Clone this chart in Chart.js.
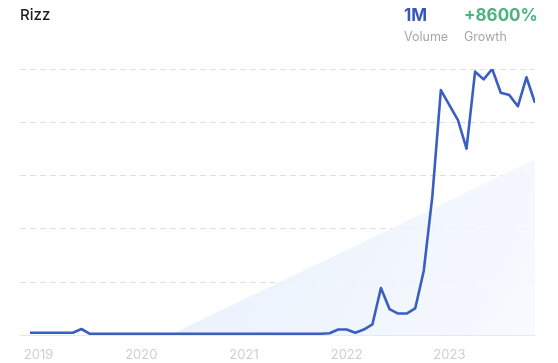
<!DOCTYPE html>
<html>
<head>
<meta charset="utf-8">
<script src="https://cdn.jsdelivr.net/npm/chart.js@4"></script>
<style>
    body { margin: 0; background: #fff; font-family: Inter, "Noto Sans", sans-serif; }
    .wrap { position: relative; width: 558px; height: 363px; overflow: hidden; }
    canvas { position: absolute; left: 0; top: 0; }
    .title { position: absolute; left: 20px; top: 5px; font-size: 15px; font-weight: 500; color: #1d1f24; }
    .stat { position: absolute; top: 4px; }
    .stat .num { font-size: 17px; font-weight: 700; line-height: 22px; }
    .stat .lbl { font-size: 12.5px; color: #a3a7ae; line-height: 18px; margin-top: 2px; }
</style>
</head>
<body>
<div class="wrap">
    <canvas id="trendChart" width="558" height="376"></canvas>
    <div class="title">Rizz</div>
    <div class="stat" style="left:404px"><div class="num" style="color:#3557b7">1M</div><div class="lbl">Volume</div></div>
    <div class="stat" style="left:464px"><div class="num" style="color:#4cb37e">+8600%</div><div class="lbl">Growth</div></div>
</div>
<script>
// Monthly search interest, Dec 2018 .. Nov 2023 (one value per month)
const searchValues = [
    1.0, 1.0, 1.0, 1.0, 1.0, 1.0, 2.4, 0.6, 0.6, 0.6,
    0.6, 0.6, 0.6, 0.6, 0.6, 0.6, 0.6, 0.6, 0.6, 0.6,
    0.6, 0.6, 0.6, 0.6, 0.6, 0.6, 0.6, 0.6, 0.6, 0.6,
    0.6, 0.6, 0.6, 0.6, 0.6, 0.8, 2.2, 2.2, 1.0, 2.2,
    4.1, 17.8, 9.9, 8.2, 8.2, 10.1, 24.2, 52.0, 92.1, 86.4,
    80.8, 70.1, 99.0, 96.1, 100, 91.1, 90.2, 86.0, 96.9, 87.3
];

// Trend area: value at first and last month
const trendIndex = [0, 59];
const trendValues = [-25, 66];

// Year labels on the x-axis and the month index where each sits
const yearLabels = ['2019', '2020', '2021', '2022', '2023'];
const yearIndex = [1, 13, 25, 37, 49];

const ctx = document.getElementById('trendChart').getContext('2d');

const seriesPoints = searchValues.map((v, i) => ({ x: i, y: v }));
const trendPoints = trendIndex.map((x, i) => ({ x: x, y: trendValues[i] }));

function trendFill(context) {
    const area = context.chart.chartArea;
    if (!area) return 'rgba(234,242,252,0.8)';
    const g = context.chart.ctx.createLinearGradient(area.left + 160, area.top + 80, area.right, area.bottom);
    g.addColorStop(0, 'rgba(230,239,252,0.9)');
    g.addColorStop(1, 'rgba(246,249,254,0.9)');
    return g;
}

const myChart = new Chart(ctx, {
    type: 'line',
    data: {
        datasets: [
            {
                data: seriesPoints,
                borderColor: '#3a5ec2',
                borderWidth: 2.6,
                pointRadius: 0,
                tension: 0,
                borderJoinStyle: 'round',
                fill: false,
                order: 0
            },
            {
                data: trendPoints,
                borderWidth: 0,
                borderColor: 'rgba(0,0,0,0)',
                backgroundColor: trendFill,
                pointRadius: 0,
                fill: 'origin',
                order: 1
            }
        ]
    },
    options: {
        responsive: false,
        animation: false,
        layout: { padding: { left: 20, right: 23, top: 69, bottom: 1 } },
        plugins: { legend: { display: false }, tooltip: { enabled: false } },
        scales: {
            x: {
                type: 'linear',
                min: -1.17,
                max: 59,
                grid: { display: false, drawTicks: false },
                border: { display: false },
                afterBuildTicks: function(scale) {
                    scale.ticks = yearIndex.map(v => ({ value: v }));
                },
                ticks: {
                    padding: 12,
                    color: '#c9d0dd',
                    font: { family: 'Inter', size: 13 },
                    maxRotation: 0,
                    autoSkip: false,
                    callback: function(value) {
                        const k = yearIndex.indexOf(value);
                        return k >= 0 ? yearLabels[k] : '';
                    }
                }
            },
            y: {
                min: 0,
                max: 100,
                ticks: { display: false, stepSize: 20 },
                grid: {
                    drawTicks: false,
                    color: c => c.tick.value === 0 ? '#e3e8f0' : '#dcdfe4',
                    lineWidth: 1
                },
                border: {
                    display: false,
                    dash: c => c.tick && c.tick.value === 0 ? [] : [6, 4]
                }
            }
        }
    }
});
</script>
</body>
</html>
